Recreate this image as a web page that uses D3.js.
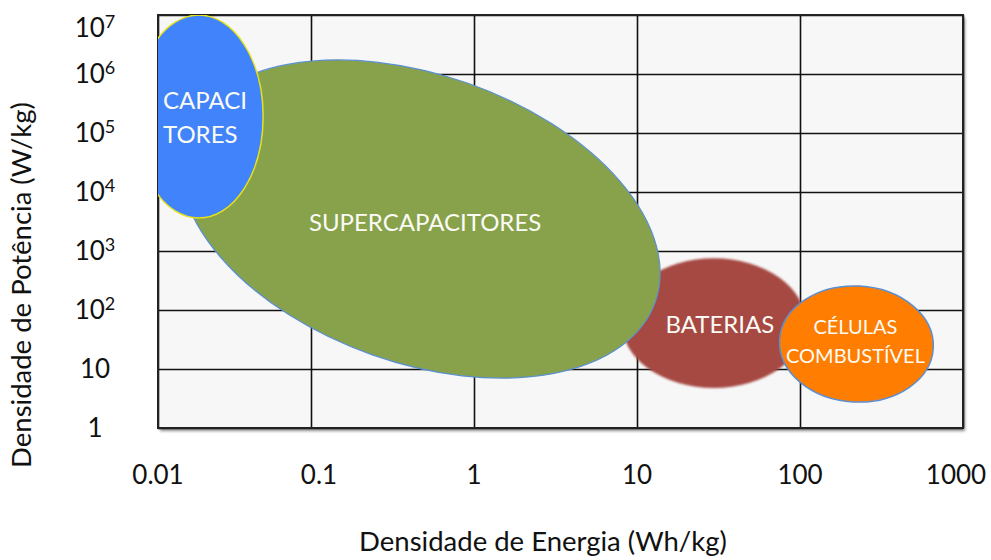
<!DOCTYPE html>
<html>
<head>
<meta charset="utf-8">
<script src="https://cdn.jsdelivr.net/npm/d3@7"></script>
<style>
  body { margin: 0; background: #fff; }
  svg { display: block; font-family: Lato, "Open Sans", sans-serif; }
  .tick-label { font-size: 26px; fill: #111; }
  .axis-label { font-size: 27.5px; fill: #111; }
  .region-label { fill: #fbfbf5; }
</style>
</head>
<body>
<div id="ragone"></div>
<script>
// ---- data ----
const energyTicks = [0.01, 0.1, 1, 10, 100, 1000];
const energyTickLabels = ["0.01", "0.1", "1", "10", "100", "1000"];
const powerTicks = [1, 10, 1e2, 1e3, 1e4, 1e5, 1e6, 1e7];
const powerTickBase = ["1", "10", "10", "10", "10", "10", "10", "10"];
const powerTickExp = ["", "", "2", "3", "4", "5", "6", "7"];

// regions (drawing order): centre in Wh/kg and W/kg, half-size in decades, tilt in degrees
const regionNames = ["BATERIAS", "SUPERCAPACITORES", "CAPACITORES", "CÉLULAS COMBUSTÍVEL"];
const regionLines = [["BATERIAS"], ["SUPERCAPACITORES"], ["CAPACI", "TORES"], ["CÉLULAS", "COMBUSTÍVEL"]];
const regionEnergy = [29.6, 0.467, 0.0185, 222];
const regionPower = [60, 3480, 1.9e5, 26.5];
const regionEnergySpan = [0.564, 1.53, 0.42, 0.472];
const regionPowerSpan = [1.10, 2.44, 1.72, 0.983];
const regionTilt = [0, 19.4, 0, 3];

// ---- styles ----
const regionFill = ["#a64a43", "#88a24c", "#4183fb", "#ff7d00"];
const regionStroke = ["none", "#5b8fd0", "#e6e21a", "#5b8fd0"];
const regionStrokeWidth = [0, 1.2, 1.5, 1.5];
const regionFont = [24, 24, 24, 20];

const width = 991, height = 560;
const margin = { top: 15, left: 158 };
const colWidths = [153, 163, 163, 163, 163];
const rowHeight = 59;
const innerWidth = d3.sum(colWidths);
const innerHeight = rowHeight * (powerTicks.length - 1);

const svg = d3.select("#ragone")
  .append("svg")
    .attr("width", width)
    .attr("height", height)
    .attr("viewBox", `0 0 ${width} ${height}`);

const defs = svg.append("defs");
const shadow = defs.append("filter").attr("id", "shadow")
  .attr("x", "-5%").attr("y", "-5%").attr("width", "110%").attr("height", "110%");
shadow.append("feDropShadow")
  .attr("dx", 2).attr("dy", 3).attr("stdDeviation", 1.8)
  .attr("flood-color", "#000").attr("flood-opacity", 0.45);
defs.append("filter").attr("id", "soft")
  .append("feGaussianBlur").attr("stdDeviation", 1.1);
defs.append("clipPath").attr("id", "plot-clip")
  .append("rect").attr("width", innerWidth).attr("height", innerHeight);

// scales: the table columns are not all the same width
const xRange = [0];
colWidths.forEach(w => xRange.push(xRange[xRange.length - 1] + w));
const xScale = d3.scaleLog().domain(energyTicks).range(xRange);
const yScale = d3.scaleLog().domain([1, 1e7]).range([innerHeight, 0]);

const innerChart = svg.append("g")
  .attr("transform", `translate(${margin.left}, ${margin.top})`);

// background + shadow
innerChart.append("rect")
  .attr("width", innerWidth)
  .attr("height", innerHeight)
  .attr("fill", "#f7f7f7")
  .attr("filter", "url(#shadow)");

// grid
innerChart.append("g")
  .call(d3.axisBottom(xScale).tickValues(energyTicks).tickSize(innerHeight).tickFormat(""))
  .call(g => g.select(".domain").remove())
  .selectAll("line").attr("stroke", "#111").attr("stroke-width", 1.6);

innerChart.append("g")
  .call(d3.axisLeft(yScale).tickValues(powerTicks).tickSize(-innerWidth).tickFormat(""))
  .call(g => g.select(".domain").remove())
  .selectAll("line").attr("stroke", "#111").attr("stroke-width", 1.6);

innerChart.append("rect")
  .attr("width", innerWidth)
  .attr("height", innerHeight)
  .attr("fill", "none")
  .attr("stroke", "#222")
  .attr("stroke-width", 2);

// regions
const regionData = regionNames.map((name, i) => ({
  name, i,
  cx: xScale(regionEnergy[i]),
  cy: yScale(regionPower[i]),
  rx: xScale(regionEnergy[i] * Math.pow(10, regionEnergySpan[i])) - xScale(regionEnergy[i]),
  ry: yScale(regionPower[i]) - yScale(regionPower[i] * Math.pow(10, regionPowerSpan[i]))
}));

innerChart.append("g").attr("clip-path", "url(#plot-clip)")
  .selectAll("ellipse")
  .data(regionData)
  .join("ellipse")
    .attr("transform", d => `translate(${d.cx}, ${d.cy}) rotate(${regionTilt[d.i]})`)
    .attr("rx", d => d.rx)
    .attr("ry", d => d.ry)
    .attr("fill", d => regionFill[d.i])
    .attr("stroke", d => regionStroke[d.i])
    .attr("stroke-width", d => regionStrokeWidth[d.i])
    .attr("filter", d => d.i === 0 ? "url(#soft)" : null);

// labels inside the regions (small nudges to match the original layout)
const labelShift = [[6, 2], [5, 4], [0, 1], [-1, -3]];
const lineGap = [0, 0, 34, 29];

regionData.forEach(d => {
  const n = regionLines[d.i].length;
  regionLines[d.i].forEach((line, k) => {
    innerChart.append("text")
      .attr("class", "region-label")
      .attr("font-size", regionFont[d.i])
      .attr("text-anchor", d.i === 2 ? "start" : "middle")
      .attr("x", d.i === 2 ? xScale(0.01) + 5 : d.cx + labelShift[d.i][0])
      .attr("y", d.cy + labelShift[d.i][1] + (k - (n - 1) / 2) * lineGap[d.i])
      .attr("dy", "0.35em")
      .text(line);
  });
});

// x tick labels
svg.append("g")
  .selectAll("text")
  .data(energyTicks)
  .join("text")
    .attr("class", "tick-label")
    .attr("text-anchor", "middle")
    .attr("x", (d, i) => Math.min(margin.left + xScale(d) + (i === 1 ? 8 : 0), width - 35))
    .attr("y", margin.top + innerHeight + 47)
    .attr("dy", "0.35em")
    .text((d, i) => energyTickLabels[i]);

// y tick labels with exponents
const yLabels = svg.append("g")
  .selectAll("text")
  .data(powerTicks)
  .join("text")
    .attr("class", "tick-label")
    .attr("text-anchor", "middle")
    .attr("x", 95)
    .attr("y", d => Math.max(margin.top + yScale(d), 28) + 9);

yLabels.append("tspan").text((d, i) => powerTickBase[i]);
yLabels.append("tspan")
  .attr("font-size", 18)
  .attr("dy", -9)
  .text((d, i) => powerTickExp[i]);

// axis titles
svg.append("text")
  .attr("class", "axis-label")
  .attr("text-anchor", "middle")
  .attr("x", 543)
  .attr("y", 551)
  .text("Densidade de Energia (Wh/kg)");

svg.append("text")
  .attr("class", "axis-label")
  .attr("text-anchor", "middle")
  .attr("transform", "translate(31, 285) rotate(-90)")
  .text("Densidade de Potência (W/kg)");
</script>
</body>
</html>
